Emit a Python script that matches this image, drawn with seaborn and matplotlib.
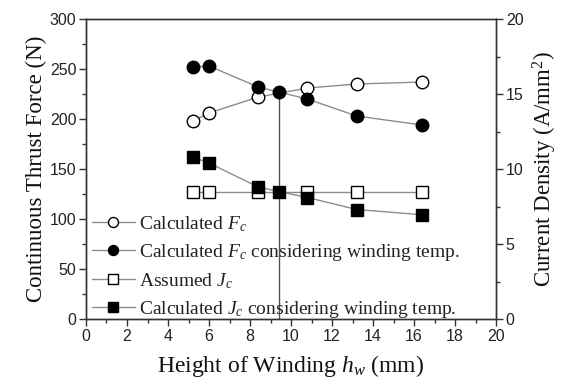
import matplotlib
matplotlib.use("Agg")
import matplotlib.pyplot as plt
import seaborn as sns
import pandas as pd
from matplotlib.ticker import MultipleLocator

sns.set_theme(style="ticks")
plt.rcParams['font.family'] = ['Liberation Sans', 'DejaVu Sans']
plt.rcParams['mathtext.fontset'] = 'custom'
plt.rcParams['mathtext.rm'] = 'Liberation Serif'
plt.rcParams['mathtext.it'] = 'Liberation Serif:italic'

# data
hw_fc = [5.2, 6.0, 8.4, 10.8, 13.2, 16.4]
fc_calc = [198, 206, 222, 231, 235, 237]
hw_t = [5.2, 6.0, 8.4, 9.4, 10.8, 13.2, 16.4]
fc_temp = [252, 253, 232, 227, 220, 203, 194]
hw_j = [5.2, 6.0, 8.4, 10.8, 13.2, 16.4]
jc_assumed = [8.5, 8.5, 8.5, 8.5, 8.5, 8.5]
jc_temp = [10.8, 10.4, 8.8, 8.5, 8.1, 7.3, 6.95]
h_sel = 9.4
f_sel = 227

labels = [r'Calculated $F_c$',
          r'Calculated $F_c$ considering winding temp.',
          r'Assumed $J_c$',
          r'Calculated $J_c$ considering winding temp.']

fig = plt.figure(figsize=(5.65, 3.85), dpi=100)
ax = fig.add_axes([0.1522, 0.1714, 0.7258, 0.7792])
ax2 = ax.twinx()

line_kw = dict(color='#8c8c8c', linewidth=1.0, markersize=9,
               markeredgecolor='black', markeredgewidth=1.0)

sns.lineplot(x=hw_fc, y=fc_calc, ax=ax, marker='o', markerfacecolor='white',
             label=labels[0], zorder=3, **line_kw)
sns.lineplot(x=hw_t, y=fc_temp, ax=ax, marker='o', markerfacecolor='black',
             label=labels[1], zorder=4, **line_kw)
sns.lineplot(x=hw_j, y=jc_assumed, ax=ax2, marker='s', markerfacecolor='white',
             label=labels[2], zorder=3, **line_kw)
sns.lineplot(x=hw_t, y=jc_temp, ax=ax2, marker='s', markerfacecolor='black',
             label=labels[3], zorder=4, **line_kw)

ax.vlines(h_sel, 0, f_sel, color='#555555', linewidth=1.0, zorder=2)

ax.set_xlim(0, 20)
ax.set_ylim(0, 300)
ax2.set_ylim(0, 20)
ax.xaxis.set_major_locator(MultipleLocator(2))
ax.xaxis.set_minor_locator(MultipleLocator(1))
ax.yaxis.set_major_locator(MultipleLocator(50))
ax.yaxis.set_minor_locator(MultipleLocator(25))
ax2.yaxis.set_major_locator(MultipleLocator(5))
ax2.yaxis.set_minor_locator(MultipleLocator(2.5))

for a in (ax, ax2):
    for s in a.spines.values():
        s.set_visible(True)
        s.set_color('#333333')
        s.set_linewidth(1.0)
    a.tick_params(which='major', length=5, width=1, color='#333333',
                  labelsize=11.5, labelcolor='#222222', direction='out', pad=2)
    a.tick_params(which='minor', length=3, width=1, color='#333333', direction='out')

ax.set_xlabel(r'Height of Winding $h_w$ (mm)', family='Liberation Serif',
              fontsize=17, color='#111111', labelpad=7)
ax.set_ylabel('Continuous Thrust Force (N)', family='Liberation Serif',
              fontsize=16.5, color='#111111', labelpad=2)
ax2.set_ylabel(r'Current Density (A/mm$^2$)', family='Liberation Serif',
               fontsize=16.5, color='#111111', labelpad=5)

h1, l1 = ax.get_legend_handles_labels()
h2, l2 = ax2.get_legend_handles_labels()
if ax.get_legend():
    ax.get_legend().remove()
if ax2.get_legend():
    ax2.get_legend().remove()
leg = ax2.legend(h1 + h2, l1 + l2, loc='lower left', bbox_to_anchor=(0.0, -0.022),
                 frameon=False, prop={'family': 'Liberation Serif', 'size': 14},
                 handlelength=2.2, handletextpad=0.25, labelspacing=0.42,
                 borderpad=0.3, borderaxespad=0.0, markerscale=0.8)
for t in leg.get_texts():
    t.set_color('#222222')

fig.savefig('out.png', dpi=100)
